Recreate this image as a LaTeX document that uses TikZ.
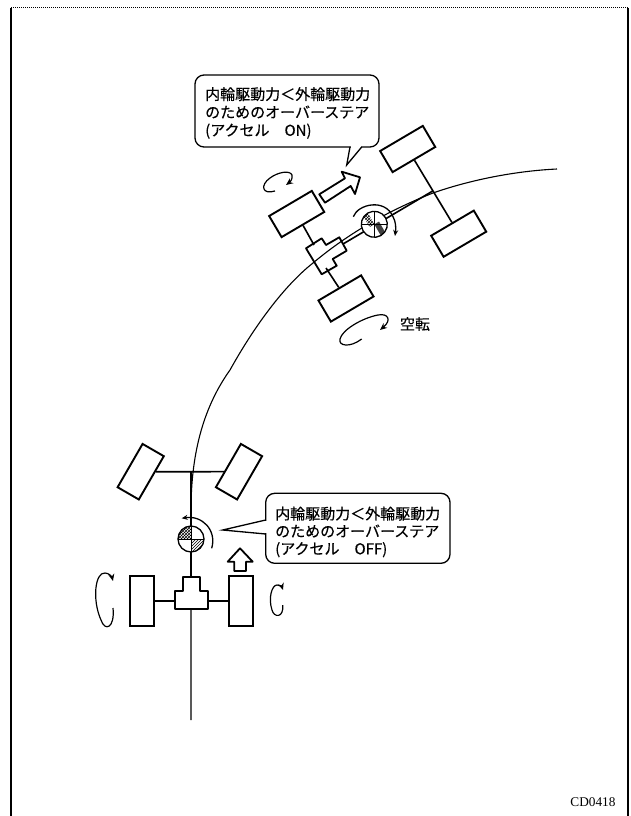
\documentclass[tikz,border=0pt]{standalone}
\usepackage{fontspec}
\newfontfamily\jpfont[FakeBold=0.35]{Noto Sans CJK JP}
\setmainfont{Liberation Serif}
\usepackage{tikz}
\usetikzlibrary{arrows.meta,patterns}
\begin{document}
\begin{tikzpicture}[
    x=1pt,y=-1pt,
    wl/.style={rectangle,draw,line width=1.9pt,fill=white,inner sep=0pt,
               minimum width=#1,minimum height=24.5pt},
    wl/.default=49.5pt,
    yw/.style={circle,draw,line width=1.3pt,fill=white,inner sep=0pt,minimum size=26pt,
               path picture={
                 \fill[pattern=crosshatch,pattern color=black]
                   (path picture bounding box.north west) rectangle (path picture bounding box.center);
                 \fill[#1] (path picture bounding box.south east) rectangle (path picture bounding box.center);
                 \draw[line width=.9pt] (path picture bounding box.west)--(path picture bounding box.east);
                 \draw[line width=.9pt] (path picture bounding box.north)--(path picture bounding box.south);}},
    ax/.style={line width=1.6pt},
    bd/.style={draw,line width=1.8pt,fill=white,line join=round},
    bl/.style={rounded corners=9pt,draw,line width=1.3pt,fill=white},
    sp/.style={line width=1.2pt,-{Stealth[length=7pt,width=6pt]}},
    tx/.style={align=left,anchor=north west,inner sep=0pt,
               font=\fontsize{15}{#1}\selectfont\jpfont}]
\useasboundingbox (0,0) rectangle (631,816);
\fill[white] (0,0) rectangle (631,816);
% frame
\draw[line width=1.8pt] (11,816)--(11,8);
\draw[line width=1pt,densely dotted] (11,8)--(628,8);
\draw[line width=1.8pt] (628,8)--(628,816);
% lower car
\coordinate (cs) at (191,720);
\node[wl=50pt,rotate=60] (fa) at (140.7,471.7) {};
\node[wl=50pt,rotate=60] (fb) at (239,471.7) {};
\coordinate (fc) at (190.7,471.7);
\node[wl=50pt,rotate=90] (ra) at (142,601) {};
\node[wl=50pt,rotate=90] (rb) at (241,601) {};
\draw[ax] (fa)--(fb);
\draw[ax] (ra)--(rb);
% path of the car
\draw[line width=1.1pt] (cs)--(191,510) .. controls (191,450) and (205,405) .. (230,370)
  .. controls (255,325) and (285,285) .. (313,263)
  .. controls (350,232) and (390,210) .. (433,193)
  .. controls (470,180) and (515,171) .. (557,169);
\draw[ax] (fc)--(190.7,580);
\draw[bd] (183.3,576.7)--(200,576.7)--(200,590.7)--(208.3,590.7)--(208.3,609.3)
  --(175,609.3)--(175,590.7)--(183.3,590.7)--cycle;
\node[yw={pattern=north east lines},rotate=0] (ya) at (191,539) {};
\draw[line width=1.3pt,-{Stealth[length=6pt,width=5pt]}] (211.7,548.3) .. controls (217,530) and (202,515) .. (181.7,518.3);
\draw[bd] (240,548.3)--(252.7,561.7)--(246,561.7)--(246,571)--(234.3,571)--(234.3,561.7)--(227.7,561.7)--cycle;
\draw[sp] (113,608) .. controls (115,628) and (105,632) .. (101,620)
  .. controls (92,600) and (95,572) .. (105,573) .. controls (109,573) and (112,577) .. (113,581);
\draw[sp] (282.7,605) .. controls (284,618) and (274,618) .. (272,610)
  .. controls (268,598) and (272,585) .. (277,585) .. controls (280,585) and (282,587) .. (283,590);
% upper car
\node[wl,rotate=30.5] (gc) at (296.7,214) {};
\node[wl,rotate=30.5] (gd) at (346,298.5) {};
\node[wl,rotate=30.5] (ga) at (407.7,149) {};
\node[wl,rotate=30.5] (gb) at (458.7,233.7) {};
\coordinate (gf) at (432.7,191);
\coordinate (gl) at (314,245);
\coordinate (gr) at (326,268);
\coordinate (gs) at (343,244);
\draw[ax] (ga)--(gb);
\draw[ax] (gc)--(gl);
\draw[ax] (gd)--(gr);
\draw[ax] (gs)--(gf);
\draw[draw,line width=1.8pt,line join=round] (306,248.3)--(321.7,238.3)--(326,245)--(339.3,237.3)--(346.7,250.7)
  --(332.7,259)--(336.7,265.7)--(321.7,274.3)--cycle;
\node[yw={black!75},rotate=30] (yb) at (374.3,224.3) {};
\draw[line width=1.3pt,-{Stealth[length=6pt,width=5pt]}] (353.3,216.7) .. controls (358,204) and (385,198) .. (393,216.7)
  .. controls (396,222) and (396,228) .. (395,236);
\draw[bd] (319.3,194.3)--(345,178.3)--(341.7,171.7)--(360,177.3)--(355,194)--(350.7,186)--(325,202.7)--cycle;
\draw[sp] (275,191) .. controls (262,195) and (260,185) .. (270,178)
  .. controls (278,172) and (290,170) .. (292,175) .. controls (293,179) and (290,182) .. (286,185);
\draw[sp] (361.7,339) .. controls (350,348) and (338,346) .. (340,339)
  .. controls (342,330) and (362,318) .. (378,315) .. controls (388,313) and (392,320) .. (380,330);
% callouts
\draw[bl] (195,75) rectangle (379,147);
\fill[white] (351,144) rectangle (361,149);
\draw[line width=1.3pt,line join=miter] (350,147)--(346.7,165)--(361.7,147);
\node[tx=18pt] (ca) at (205,87) {内輪駆動力＜外輪駆動力\\のためのオーバーステア\\(アクセル　ON)};
\draw[bl] (265.7,493.3) rectangle (450,563.3);
\fill[white] (263,521) rectangle (268,533);
\draw[line width=1.3pt,line join=miter] (265.7,520)--(222.7,530)--(265.7,534);
\node[tx=17.5pt] (cb) at (275,506.5) {内輪駆動力＜外輪駆動力\\のためのオーバーステア\\(アクセル　OFF)};
\node[font=\fontsize{15}{18}\selectfont\jpfont,inner sep=0pt] (sl) at (415,324) {空転};
\node[font=\fontsize{13.3}{15}\selectfont,inner sep=0pt] (cd) at (593,802) {CD0418};
\end{tikzpicture}
\end{document}
